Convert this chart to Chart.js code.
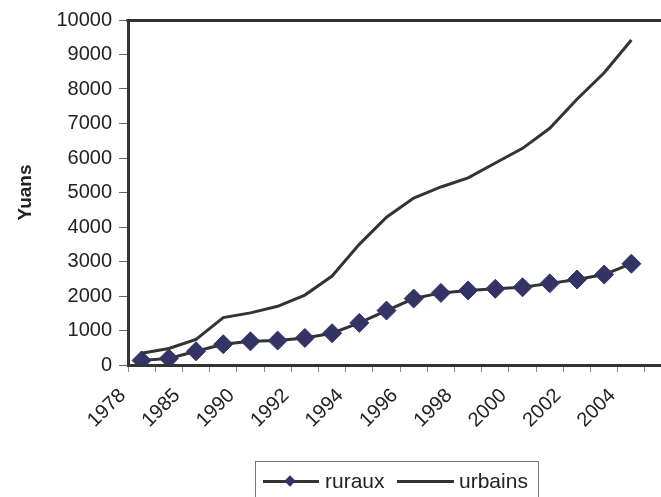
<!DOCTYPE html>
<html>
<head>
<meta charset="utf-8">
<script src="https://cdn.jsdelivr.net/npm/chart.js@4/dist/chart.umd.min.js"></script>
<style>
  html, body { margin: 0; padding: 0; background: #fff; overflow: hidden; }
  #wrap { position: relative; width: 661px; height: 497px; }
  #legend {
    position: absolute; left: 255px; top: 461px; width: 284px; height: 44px;
    border: 1px solid #777; box-sizing: border-box;
    font-family: "Liberation Sans", Arial, sans-serif; font-size: 21px; color: #222;
  }
  #legend .item { position: absolute; top: 7px; height: 24px; line-height: 24px; }
  #legend .line { position: absolute; height: 3px; background: #333; top: 18px; }
  #legend .dia { position: absolute; width: 8px; height: 8px; background: #333366; transform: rotate(45deg); top: 15px; }
</style>
</head>
<body>
<div id="wrap">
  <canvas id="myChart" width="661" height="497"></canvas>
  <div id="legend">
    <div class="line" style="left:7px;width:56px"></div>
    <div class="dia" style="left:30px"></div>
    <div class="item" style="left:69px">ruraux</div>
    <div class="line" style="left:141px;width:57px"></div>
    <div class="item" style="left:203px">urbains</div>
  </div>
</div>
<script>
  var years = ['1978', '1980', '1985', '1989', '1990', '1991', '1992', '1993', '1994',
               '1995', '1996', '1997', '1998', '1999', '2000', '2001', '2002', '2003', '2004'];
  var ruraux = [134, 191, 398, 602, 686, 708, 784, 922, 1221, 1578, 1926, 2090, 2162, 2210, 2253, 2366, 2476, 2622, 2936];
  var urbains = [343, 478, 739, 1374, 1510, 1701, 2027, 2577, 3496, 4283, 4839, 5160, 5425, 5854, 6280, 6860, 7703, 8472, 9422];
  var yTicks = [0, 1000, 2000, 3000, 4000, 5000, 6000, 7000, 8000, 9000, 10000];

  var font = 'Liberation Sans, Arial, sans-serif';

  // top border and axis line run past the right edge like in the source picture
  var frame = {
    id: 'frame',
    afterDraw: function(chart) {
      var ctx = chart.ctx, a = chart.chartArea;
      var top = Math.round(a.top) + 0.5, bottom = Math.round(a.bottom) + 0.5;
      ctx.save();
      ctx.strokeStyle = '#333';
      ctx.lineWidth = 3;
      ctx.beginPath();
      ctx.moveTo(a.left - 1.5, top);
      ctx.lineTo(chart.width, top);
      ctx.moveTo(a.right - 2, bottom);
      ctx.lineTo(chart.width, bottom);
      ctx.stroke();
      ctx.restore();
    }
  };

  function drawChart() {
    const data = {
      labels: years,
      datasets: [{
        label: 'urbains',
        data: urbains,
        borderColor: '#333333',
        borderWidth: 3,
        pointRadius: 0,
        tension: 0
      }, {
        label: 'ruraux',
        data: ruraux,
        borderColor: '#333333',
        borderWidth: 3,
        pointStyle: 'rectRot',
        pointRadius: 9.5,
        pointBorderWidth: 1,
        pointBackgroundColor: '#333366',
        pointBorderColor: '#333366',
        tension: 0
      }]
    };

    const config = {
      type: 'line',
      data: data,
      options: {
        responsive: false,
        animation: false,
        layout: { padding: { top: 20, right: 16, bottom: 0, left: 14 } },
        plugins: { legend: { display: false }, tooltip: { enabled: false } },
        scales: {
          x: {
            offset: true,
            grid: { drawOnChartArea: false, drawTicks: true, tickLength: 7, tickColor: '#888', offset: true },
            border: { display: true, width: 3, color: '#333' },
            ticks: {
              autoSkip: false,
              maxRotation: 45,
              minRotation: 45,
              labelOffset: -19,
              padding: 12,
              color: '#222',
              font: { family: font, size: 20 },
              callback: function(v, i) { return i % 2 === 0 ? years[i] : ''; }
            },
            afterFit: function(s) { s.height = 132; }
          },
          y: {
            min: 0,
            max: 10000,
            afterBuildTicks: function(s) { s.ticks = yTicks.map(function(v) { return { value: v }; }); },
            grid: { drawOnChartArea: false, drawTicks: true, tickLength: 9, tickColor: '#666' },
            border: { display: true, width: 3, color: '#333' },
            ticks: {
              padding: 7, color: '#222', font: { family: font, size: 20 },
              callback: function(v) { return String(v); }
            },
            title: { display: true, text: 'Yuans', color: '#222', font: { family: font, size: 19, weight: 'bold' }, padding: { top: 0, bottom: 8 } },
            afterFit: function(s) { s.width = 114; }
          }
        }
      },
      plugins: [frame]
    };

    const myChart = new Chart(document.getElementById('myChart'), config);
  }

  drawChart();
</script>
</body>
</html>
